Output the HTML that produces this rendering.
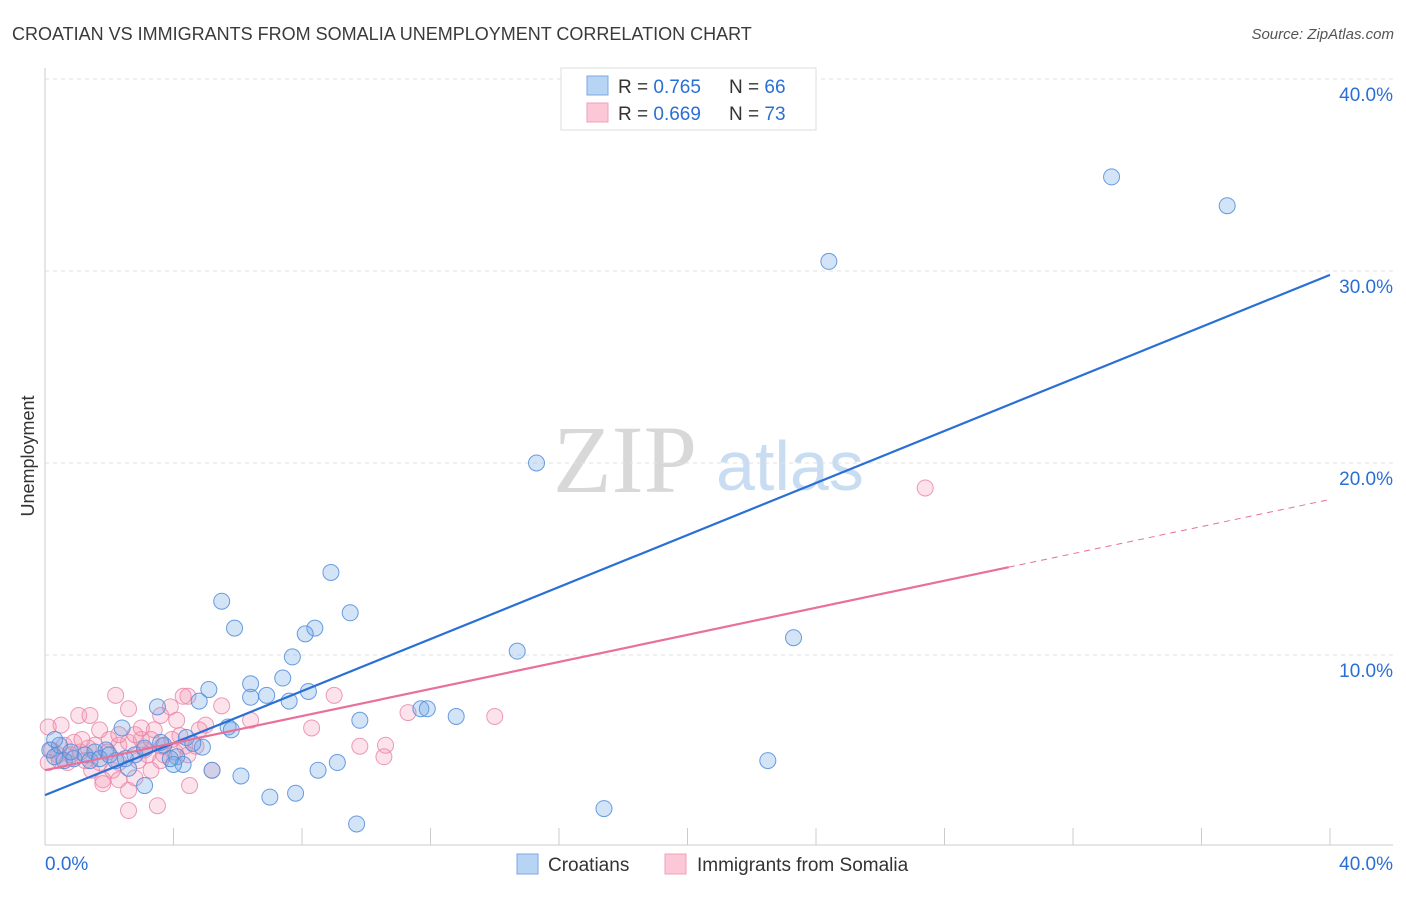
<!DOCTYPE html>
<html><head><meta charset="utf-8"><style>
body{margin:0;background:#fff;font-family:"Liberation Sans",sans-serif;}
svg text{font-family:"Liberation Sans",sans-serif;}
</style></head><body>
<svg id="chart" width="1406" height="892" viewBox="0 0 1406 892" xmlns="http://www.w3.org/2000/svg">
<text x="12" y="40" font-size="18" fill="#3a3a3a">CROATIAN VS IMMIGRANTS FROM SOMALIA UNEMPLOYMENT CORRELATION CHART</text>
<text x="1394" y="39" font-size="15" fill="#555" font-style="italic" text-anchor="end">Source: ZipAtlas.com</text>
<text x="553" y="492" font-size="96" fill="#d8d8d8" font-family="Liberation Serif" style="font-family:'Liberation Serif',serif">ZIP</text>
<text x="716" y="490" font-size="70" fill="#c8dcf2">atlas</text>
<g id="grid"></g>
<g id="axes"></g>
<g id="pts"></g>
<g id="lines"></g>
<text transform="translate(34,456) rotate(-90)" font-size="18" fill="#333" text-anchor="middle">Unemployment</text>
<g>
<rect x="561" y="68" width="255" height="62" fill="#fff" stroke="#ddd"/>
<rect x="587" y="76" width="21" height="19" fill="#b8d4f5" stroke="#7aa8e3"/>
<rect x="587" y="103" width="21" height="19" fill="#fcc8d8" stroke="#eea0b8"/>
<text x="618" y="93" font-size="19" fill="#333">R = <tspan fill="#2a6fd6">0.765</tspan><tspan x="729">N = </tspan><tspan fill="#2a6fd6">66</tspan></text>
<text x="618" y="120" font-size="19" fill="#333">R = <tspan fill="#2a6fd6">0.669</tspan><tspan x="729">N = </tspan><tspan fill="#2a6fd6">73</tspan></text>
</g>
<g>
<rect x="517" y="854" width="21" height="20" fill="#b8d4f5" stroke="#7aa8e3"/>
<text x="548" y="871" font-size="19" fill="#333">Croatians</text>
<rect x="665" y="854" width="21" height="20" fill="#fcc8d8" stroke="#eea0b8"/>
<text x="697" y="871" font-size="19" fill="#333">Immigrants from Somalia</text>
</g>
</svg>
<script>
const yTicks=[10,20,30,40];
const yTickLabels=["10.0%","20.0%","30.0%","40.0%"];
const xEndLabels=["0.0%","40.0%"];
const croatX=[33.2,36.8,24.4,15.3,8.9,5.5,9.5,5.9,8.4,8.1,23.3,14.7,7.7,5.1,6.4,7.4,6.9,8.2,6.4,7.6,4.8,3.5,11.7,11.9,12.8,9.8,5.7,5.8,2.4,4.4,4.9,3.7,4.6,4.1,4.3,4.0,22.5,9.1,8.5,6.1,5.2,2.6,3.1,7.0,7.8,17.4,9.7,0.15,0.3,0.6,0.9,1.25,1.55,1.9,2.2,2.8,3.1,3.6,3.9,0.45,0.8,1.4,1.7,2.0,2.5,0.3];
const croatY=[34.9,33.4,30.5,20.0,14.3,12.8,12.2,11.4,11.4,11.1,10.9,10.2,9.9,8.2,8.5,8.8,7.9,8.1,7.8,7.6,7.6,7.3,7.2,7.2,6.8,6.6,6.25,6.1,6.2,5.7,5.2,5.3,5.4,4.7,4.3,4.3,4.5,4.4,4.0,3.7,4.0,4.1,3.2,2.6,2.8,2.0,1.2,5.05,4.7,4.5,4.6,4.8,4.95,5.05,4.5,4.8,5.15,5.45,4.6,5.3,4.95,4.5,4.6,4.8,4.6,5.6];
const somX=[27.4,2.2,4.45,1.05,1.4,2.6,5.5,9.0,4.3,3.9,3.6,5.0,6.4,8.3,11.3,14.0,9.8,10.6,10.55,0.5,0.1,1.7,3.4,4.1,4.2,4.8,3.0,2.0,2.3,2.6,0.6,0.8,0.45,1.1,1.55,3.1,3.7,3.95,3.3,2.1,1.45,1.8,2.3,2.6,1.8,2.8,4.5,5.2,2.6,3.5,0.2,0.4,0.9,1.25,3.3,2.8,3.6,4.35,4.7,0.1,0.7,1.35,1.95,2.3,2.9,3.2,3.65,4.05,2.3,1.7,1.15,3.0,4.45];
const somY=[18.7,7.9,7.85,6.85,6.85,7.2,7.35,7.9,7.85,7.3,6.85,6.35,6.6,6.2,7.0,6.8,5.25,5.3,4.7,6.35,6.25,6.1,6.1,6.6,5.8,6.1,5.6,5.6,5.3,5.45,5.3,4.8,4.5,4.95,5.3,5.05,4.8,5.6,4.0,4.0,4.0,3.5,3.5,2.95,3.3,3.6,3.2,4.0,1.9,2.15,5.05,4.8,5.45,4.5,5.6,5.85,4.5,5.25,5.25,4.4,4.4,5.15,4.95,4.4,4.5,4.8,5.25,4.95,5.85,4.4,5.6,6.2,4.8];
const croatFit=[2.7,29.8];
const somFit=[4.0,18.1];
const somSolidEnd=30.0;
const NS="http://www.w3.org/2000/svg";
const X0=45,X1=1330,Y0=847,PPY=19.2;
function sx(v){return X0+(v/40)*(X1-X0);}
function sy(v){return Y0-v*PPY;}
function mk(tag,attrs,parent){const e=document.createElementNS(NS,tag);for(const k in attrs)e.setAttribute(k,attrs[k]);parent.appendChild(e);return e;}
const grid=document.getElementById('grid'),axes=document.getElementById('axes'),pts=document.getElementById('pts'),lines=document.getElementById('lines');
yTicks.forEach((t,i)=>{
 const l=mk('line',{x1:X0,x2:1393,y1:sy(t),y2:sy(t),stroke:'#e2e2e2','stroke-dasharray':'4,4'},grid);
 
 
 const tx=mk('text',{x:1393,y:sy(t)+22,'font-size':19,fill:'#2a6fd6','text-anchor':'end'},grid);
 tx.textContent=yTickLabels[i];
 
 
});
const la=mk('line',{x1:X0,x2:X0,y1:68,y2:845,stroke:'#ccc'},axes);


const ba=mk('line',{x1:X0,x2:1393,y1:845,y2:845,stroke:'#ccc'},axes);


for(let i=1;i<=10;i++){
 const t=mk('line',{x1:sx(i*4),x2:sx(i*4),y1:828,y2:845,stroke:'#ccc'},axes);
 
 
}
const xl0=mk('text',{x:45,y:870,'font-size':19,fill:'#2a6fd6'},axes);xl0.textContent=xEndLabels[0];


const xl1=mk('text',{x:1393,y:870,'font-size':19,fill:'#2a6fd6','text-anchor':'end'},axes);xl1.textContent=xEndLabels[1];


somX.forEach((x,i)=>{
 const c=mk('circle',{cx:sx(x),cy:sy(somY[i]),r:8,fill:'rgba(244,150,180,0.28)',stroke:'rgba(232,130,165,0.8)','stroke-width':1},pts);
 
 
});
croatX.forEach((x,i)=>{
 const c=mk('circle',{cx:sx(x),cy:sy(croatY[i]),r:8,fill:'rgba(110,165,230,0.3)',stroke:'rgba(80,140,220,0.85)','stroke-width':1},pts);
 
 
});
const bl=mk('line',{x1:sx(0),y1:sy(croatFit[0]),x2:sx(40),y2:sy(croatFit[1]),stroke:'#2a6fd6','stroke-width':2.2},lines);


const sm=somFit[0]+(somFit[1]-somFit[0])*somSolidEnd/40;
const pl=mk('line',{x1:sx(0),y1:sy(somFit[0]),x2:sx(somSolidEnd),y2:sy(sm),stroke:'#e8709a','stroke-width':2.2},lines);


const pd=mk('line',{x1:sx(somSolidEnd),y1:sy(sm),x2:sx(40),y2:sy(somFit[1]),stroke:'#e8709a','stroke-width':1,'stroke-dasharray':'6,5'},lines);


</script>
</body></html>
